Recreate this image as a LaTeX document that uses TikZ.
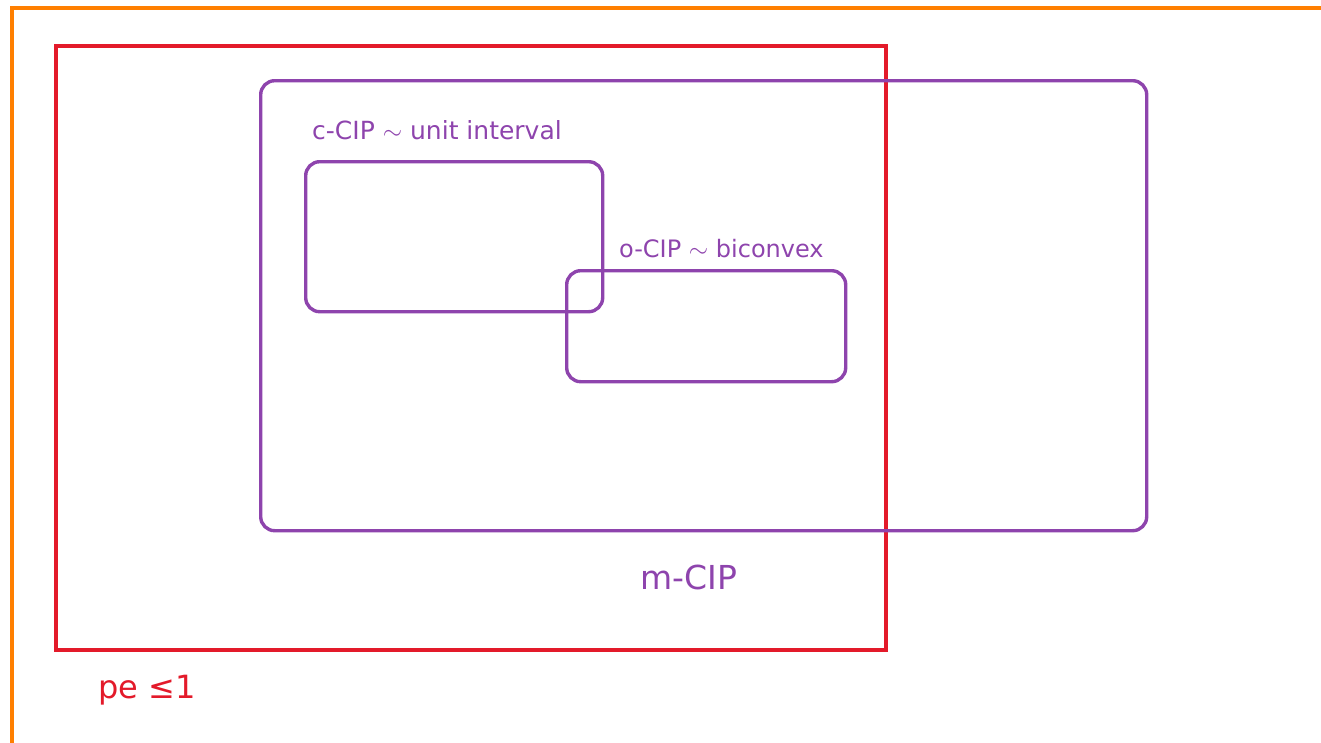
\documentclass[tikz,border=0pt]{standalone}
\usepackage{fontspec}
\setmainfont{DejaVu Sans}
\definecolor{orng}{HTML}{FF7F00}
\definecolor{rd}{HTML}{E31A2A}
\definecolor{prp}{HTML}{8E44AD}
\begin{document}
\begin{tikzpicture}[x=1pt,y=-1pt,
  region/.style={draw=prp,line width=3.4pt,rounded corners=14pt},
  plabel/.style={text=prp,font=\fontsize{25}{29}\selectfont,inner sep=0pt},
  every node/.style={inner sep=0pt}]
\useasboundingbox (0,0) rectangle (1321,742);
\draw[orng,line width=4pt] (12,745) |- (1325,8);
\node[draw=rd,line width=4pt,minimum width=830pt,minimum height=604pt,anchor=north west] (pe) at (54,44) {};
\node[region,minimum width=886pt,minimum height=450pt,anchor=north west] (m) at (259,79) {};
\node[region,minimum width=297pt,minimum height=150pt,anchor=north west] (c) at (304,160) {};
\node[region,minimum width=279pt,minimum height=111pt,anchor=north west] (o) at (565,269) {};
\node[plabel,anchor=west] (ct) at (312,130) {c-CIP $\sim$ unit interval};
\node[plabel,anchor=west,font=\fontsize{24}{28}\selectfont] (ot) at (619,249) {o-CIP $\sim$ biconvex};
\node[plabel,anchor=west,font=\fontsize{33}{38}\selectfont] (mt) at (640,577) {m-CIP};
\node[text=rd,anchor=west,font=\fontsize{32}{37}\selectfont] (pt) at (98,690) {pe ≤1};
\end{tikzpicture}
\end{document}
